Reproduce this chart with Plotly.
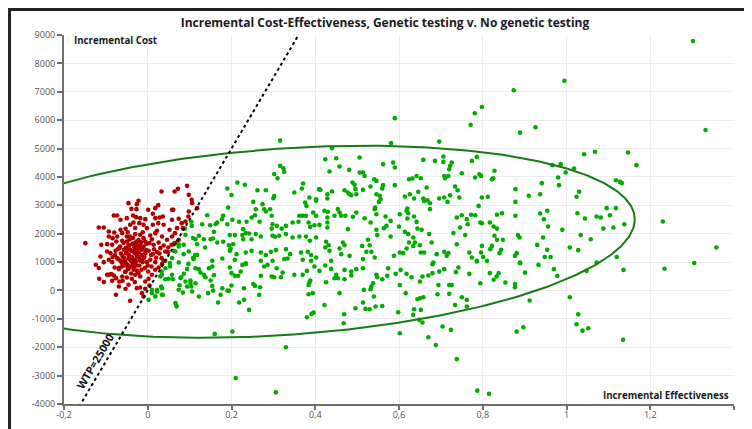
import numpy as np
import plotly.graph_objects as go

TITLE = "Incremental Cost-Effectiveness, Genetic testing v. No genetic testing"
X_LABEL = "Incremental Effectiveness"
Y_LABEL = "Incremental Cost"
WTP = 25000
WTP_LABEL = "WTP=25000"

x_ticks = [-0.2, 0, 0.2, 0.4, 0.6, 0.8, 1.0, 1.2, 1.4]
x_tick_labels = ["-0,2", "0", "0,2", "0,4", "0,6", "0,8", "1", "1,2", ""]
y_ticks = [-4000, -3000, -2000, -1000, 0, 1000, 2000, 3000, 4000, 5000, 6000, 7000, 8000, 9000]
y_tick_labels = ["-4000", "-3000", "-2000", "-1000", "0", "1000", "2000", "3000", "4000",
                 "5000", "6000", "7000", "8000", "9000"]

# confidence ellipse (center, x half-width, y components)
ell_cx, ell_cy = 0.325, 1715
ell_a, ell_c, ell_d = 0.838, 787, 3290

green_points = [
    (0.316,4390),(0.324,4300),(0.326,4180),(0.302,4100),(0.310,3955),(0.214,3800),(0.232,3720),(0.190,3590),
    (0.262,3530),(0.282,3530),(0.302,3330),(0.300,3250),(0.350,3450),(0.368,3590),(0.371,3770),(0.200,3360),
    (0.192,2920),(0.252,3120),(0.274,3040),(0.278,2860),(0.258,2860),(0.256,2650),(0.292,2860),(0.282,2780),
    (0.296,2630),(0.180,2630),(0.177,2510),(0.142,2650),(0.130,2335),(0.149,2300),(0.162,2335),(0.166,2395),
    (0.190,2335),(0.202,2490),(0.218,2420),(0.236,2420),(0.248,2570),(0.267,2420),(0.298,2335),(0.308,2275),
    (0.296,2180),(0.320,2180),(0.330,2275),(0.346,2395),(0.362,2630),(0.370,2630),(0.360,2420),(0.378,2630),
    (0.384,2395),(0.388,2240),(0.398,2300),(0.376,3100),(0.379,2980),(0.386,3275),(0.402,3160),(0.105,2275),
    (0.089,2180),(0.104,2420),(0.158,2065),(0.122,1925),(0.114,1805),(0.134,1805),(0.150,1805),(0.156,1830),
    (0.180,1715),(0.196,1950),(0.208,1950),(0.228,2160),(0.234,2020),(0.226,1950),(0.242,2005),(0.228,1805),
    (0.248,1805),(0.258,1985),(0.270,1900),(0.298,1925),(0.304,1890),(0.314,1925),(0.330,1985),(0.346,1865),
    (0.362,1900),(0.378,1900),(0.387,1750),(0.402,1865),(0.069,1690),(0.074,1630),(0.062,1395),(0.086,1280),
    (0.113,1245),(0.118,1630),(0.137,1515),(0.166,1690),(0.194,1595),(0.198,1480),(0.204,1630),(0.196,1395),
    (0.212,1280),(0.234,1335),(0.248,1395),(0.270,1335),(0.282,1245),(0.294,1360),(0.306,1420),(0.330,1455),
    (0.340,1280),(0.366,1335),(0.382,1360),(0.390,1245),(0.042,1045),(0.074,985),(0.110,1105),(0.154,1045),
    (0.178,1125),(0.208,1080),(0.234,960),(0.270,1045),(0.298,1045),(0.326,1105),(0.334,1125),(0.370,1080),
    (0.390,1045),
    (0.440,5010),(0.424,4625),(0.450,4660),(0.506,4685),(0.434,4190),(0.458,4365),(0.481,4250),(0.506,4155),
    (0.514,4155),(0.518,4035),(0.541,3920),(0.546,3860),(0.562,4450),(0.586,4505),(0.590,4330),(0.658,4600),
    (0.686,4565),(0.706,4720),(0.706,4530),(0.722,4390),(0.720,4270),(0.726,4505),(0.750,4130),(0.708,4035),
    (0.710,3955),(0.718,4035),(0.624,3920),(0.632,3945),(0.642,4035),(0.652,3955),(0.774,4565),(0.786,4705),
    (0.782,3980),(0.792,4095),(0.409,3570),(0.412,3545),(0.429,3390),(0.440,3485),(0.429,3240),(0.402,3215),
    (0.470,3530),(0.478,3450),(0.482,3390),(0.489,3805),(0.494,3720),(0.496,3570),(0.486,3355),(0.498,3390),
    (0.514,3545),(0.532,3660),(0.546,3390),(0.554,3335),(0.556,3215),(0.560,3590),(0.562,3710),(0.590,3710),
    (0.552,3120),(0.614,3310),(0.626,3390),(0.636,3240),(0.646,3475),(0.658,3240),(0.660,3155),(0.668,3180),
    (0.674,3075),(0.674,2865),(0.666,3625),(0.696,3240),(0.708,3275),(0.716,3120),(0.722,3355),(0.734,3660),
    (0.740,3530),(0.744,3275),(0.798,3275),(0.790,2980),(0.395,2745),(0.402,2630),(0.422,2805),(0.430,2770),
    (0.429,2570),(0.446,2630),(0.454,2865),(0.458,2745),(0.462,2630),(0.472,2630),(0.410,2310),(0.429,2395),
    (0.429,2220),(0.490,2595),(0.498,2745),(0.518,2545),(0.532,2395),(0.542,2865),(0.543,2920),(0.546,2685),
    (0.568,2605),(0.570,2275),(0.580,2450),(0.564,2195),(0.602,2685),(0.618,2805),(0.620,2885),(0.622,2720),
    (0.620,2535),(0.636,2605),(0.642,2415),(0.600,2255),(0.478,2160),(0.546,2135),(0.548,1950),(0.526,1785),
    (0.580,1900),(0.614,2065),(0.622,1985),(0.634,1865),(0.644,2180),(0.654,2135),(0.672,1985),(0.738,2570),
    (0.750,2650),(0.762,2510),(0.772,2665),(0.782,2650),(0.764,2335),(0.758,1950),(0.794,2395),(0.798,2370),
    (0.746,2220),(0.730,2020),(0.426,1715),(0.432,1595),(0.424,1515),(0.434,1395),(0.466,1690),(0.470,1595),
    (0.458,1480),(0.462,1280),(0.482,1220),(0.512,1570),(0.530,1595),(0.534,1360),(0.542,1160),(0.522,1360),
    (0.514,1105),(0.588,1220),(0.602,1335),(0.610,1315),(0.618,1480),(0.624,1690),(0.634,1570),(0.638,1690),
    (0.650,1595),(0.652,1335),(0.660,1335),(0.678,1690),(0.690,1280),(0.708,1360),(0.714,1220),(0.718,1315),
    (0.738,1630),(0.768,1335),(0.774,1160),(0.786,1045),(0.796,1335),(0.798,1570),(0.402,1160),(0.438,1045),
    (0.682,985),
    (1.042,4800),(1.068,4885),(1.147,4860),(1.167,4415),(0.966,4415),(0.986,4450),(1.018,4295),(0.998,4155),
    (0.828,4215),(0.825,3955),(0.822,3920),(0.796,4035),(0.980,3980),(0.982,3710),(0.941,3780),(0.878,3570),
    (0.937,3390),(0.910,3335),(1.024,3300),(1.030,3475),(1.118,3885),(1.128,3825),(1.132,3780),(0.812,3300),
    (0.878,3120),(0.954,2805),(0.937,2710),(0.946,2510),(0.956,2255),(1.026,2720),(1.044,2535),(1.072,2605),
    (1.082,2570),(1.104,2650),(1.096,2900),(1.118,2900),(1.088,2180),(1.112,2220),(1.138,2335),(0.990,2135),
    (1.034,1950),(1.058,1805),(0.834,2665),(0.846,2720),(0.878,2630),(0.817,2395),(0.826,2255),(0.834,2180),
    (0.828,1925),(0.834,1785),(0.848,1785),(0.884,1950),(0.888,1865),(0.944,1865),(0.930,1605),(0.954,1430),
    (0.822,1570),(0.818,1455),(0.844,1430),(0.840,1315),(0.881,1315),(0.877,1220),(0.801,1180),(0.810,1045),
    (0.948,1180),(0.962,1180),(1.008,1515),(1.028,1420),(1.120,1180),(0.889,985),
    (0.053,845),(0.097,935),(0.122,750),(0.126,630),(0.134,550),(0.138,465),(0.146,785),(0.154,845),
    (0.094,760),(0.086,585),(0.080,465),(0.076,185),(0.102,350),(0.114,255),(0.104,140),(0.084,-75),
    (0.032,140),(0.022,-40),(0.010,20),(0.036,-155),(0.002,-330),(0.042,395),(0.050,410),(0.060,395),
    (0.034,550),(0.150,350),(0.154,160),(0.158,540),(0.178,80),(0.174,-155),(0.156,-5),(0.144,-95),
    (0.122,-215),(0.190,-5),(0.194,-15),(0.200,175),(0.200,610),(0.196,810),(0.208,515),(0.216,515),
    (0.222,665),(0.226,900),(0.234,925),(0.230,80),(0.218,-425),(0.230,-330),(0.242,-685),(0.168,-425),
    (0.068,-510),(0.069,-565),(0.252,230),(0.256,160),(0.266,-155),(0.268,115),(0.270,515),(0.278,845),
    (0.286,900),(0.296,490),(0.302,465),(0.318,465),(0.308,785),(0.322,630),(0.350,550),(0.370,550),
    (0.380,690),(0.384,195),(0.386,280),(0.388,350),(0.394,-95),(0.384,-135),(0.391,-825),(0.396,-780),
    (0.380,-945),(0.160,-1530),(0.202,-1450),(0.330,-2000),(0.210,-3085),
    (0.410,690),(0.398,845),(0.424,880),(0.438,760),(0.426,290),(0.446,430),(0.450,550),(0.454,430),
    (0.470,725),(0.470,395),(0.486,665),(0.486,525),(0.498,750),(0.514,785),(0.546,550),(0.548,465),
    (0.538,255),(0.534,140),(0.532,45),(0.516,20),(0.540,-215),(0.560,395),(0.574,785),(0.572,515),
    (0.592,585),(0.604,725),(0.602,195),(0.618,585),(0.616,-95),(0.630,465),(0.650,315),(0.656,490),
    (0.670,525),(0.680,925),(0.680,610),(0.696,665),(0.708,750),(0.694,195),(0.692,-135),(0.720,195),
    (0.726,190),(0.720,-120),(0.736,645),(0.742,810),(0.768,585),(0.786,1020),(0.794,255),(0.458,-95),
    (0.422,-510),(0.514,-425),(0.520,-650),(0.530,-660),(0.544,-565),(0.560,-545),(0.496,-625),(0.469,-840),
    (0.468,-1155),(0.598,-765),(0.634,-860),(0.636,-660),(0.644,-310),(0.650,-275),(0.658,-240),(0.652,-685),
    (0.656,-1130),(0.648,-1035),(0.734,-510),(0.750,-240),(0.762,-330),(0.762,-565),(0.602,-1505),(0.670,-1650),
    (0.704,-1270),(0.724,-1390),(0.688,-1920),(0.738,-2420),(0.787,-3530),(0.815,-3645),(0.306,-3590),
    (0.889,960),(0.933,900),(0.970,750),(0.978,515),(0.901,630),(0.817,610),(0.833,490),(0.838,610),
    (0.826,375),(0.854,280),(0.877,230),(0.877,115),(1.048,690),(1.072,985),(1.136,725),(0.912,-355),
    (1.008,-240),(1.028,-840),(1.024,-1190),(1.038,-1415),(1.052,-1330),(0.881,-1450),(0.897,-1295),(1.135,-1740),
    (1.230,2430),(1.234,765),(1.305,965),(1.358,1515),(1.302,8790),(0.995,7390),(0.874,7055),(1.332,5655),
    (0.771,5835),(0.781,6245),(0.798,6465),(0.889,5560),(0.926,5750),(0.590,6070),(0.581,5190),(0.696,5245),
    (0.316,5280),
    (0.090,1960),(0.108,1845),(0.086,1610),(0.098,1375),(0.074,1550),(0.066,1375),(0.058,1140),(0.053,965),
    (0.042,785),(0.033,670),(0.030,495),(0.058,550),(0.078,435),(0.090,315),(0.102,260),(0.094,140),
    (0.074,25),(0.034,80),(0.022,25),(0.010,-95),(0.018,-210),(0.034,-155),(0.066,-445),(0.106,-35),
    (0.108,1140),(0.118,1255),(0.114,785),
]

red_points = [
    (0.033,3487),(0.064,3487),(0.072,3581),(0.094,3686),(0.098,3369),(0.105,3193),(0.118,2900),(-0.022,3158),
    (-0.026,3041),(-0.046,3076),(-0.039,2876),(-0.027,2865),(0.001,2841),(0.018,2900),(0.058,2841),(-0.073,2642),
    (-0.081,2642),(-0.065,2489),(-0.050,2548),(-0.035,2642),(-0.028,2583),(-0.018,2548),(-0.006,2512),(0.012,2700),
    (0.018,2548),(0.028,2571),(0.036,2606),(0.058,2489),(0.074,2524),(0.098,2782),(0.097,2606),(0.106,3076),
    (-0.105,2219),(-0.117,2219),(-0.093,2078),(-0.080,2043),(-0.065,2137),(-0.053,2172),(-0.042,2313),(-0.034,2395),
    (-0.020,2371),(-0.010,2313),(-0.002,2195),(0.012,2313),(0.025,2371),(0.038,2313),(0.052,2137),(0.065,2019),
    (0.070,2195),(0.081,2371),(0.084,2195),(0.090,2430),(0.074,1784),(-0.093,1902),(-0.084,1843),(-0.073,1902),
    (-0.061,2019),(-0.050,1902),(-0.042,1902),(-0.030,1984),(-0.018,1961),(-0.010,1843),(0.006,1937),(0.018,2019),
    (0.034,1902),(0.046,1784),(0.058,1902),(-0.149,1667),(-0.111,1608),(-0.097,1632),(-0.085,1608),(-0.075,1726),
    (-0.061,1749),(-0.050,1726),(-0.046,1608),(-0.034,1632),(-0.026,1726),(-0.018,1585),(-0.006,1726),(0.004,1667),
    (0.014,1608),(0.026,1691),(0.038,1585),(0.049,1514),(0.057,1608),(0.064,1667),(-0.113,1197),(-0.097,1374),
    (-0.089,1315),(-0.077,1397),(-0.068,1491),(-0.057,1432),(-0.052,1315),(-0.042,1432),(-0.036,1374),(-0.030,1468),
    (-0.022,1350),(-0.014,1432),(-0.006,1315),(0.002,1397),(0.012,1280),(0.022,1350),(0.030,1491),(0.042,1374),
    (0.048,1350),(-0.124,904),(-0.105,998),(-0.093,1080),(-0.085,998),(-0.073,1139),(-0.065,1045),(-0.057,1162),
    (-0.053,998),(-0.046,1139),(-0.039,1021),(-0.031,1080),(-0.026,1197),(-0.018,1045),(-0.010,1139),(-0.002,998),
    (0.006,1080),(0.018,998),(0.033,1139),(0.038,1045),(-0.117,787),(-0.093,552),(-0.087,575),(-0.079,810),
    (-0.069,751),(-0.061,845),(-0.053,669),(-0.047,787),(-0.042,845),(-0.034,728),(-0.028,881),(-0.022,610),
    (-0.015,728),(-0.007,787),(0.001,669),(0.009,845),(0.018,728),(0.026,810),(0.034,927),(-0.116,411),
    (-0.105,294),(-0.085,340),(-0.076,434),(-0.068,317),(-0.060,340),(-0.050,458),(-0.038,411),(-0.030,552),
    (-0.018,493),(-0.006,317),(0.002,411),(0.010,552),(-0.031,294),(-0.046,200),(-0.069,141),(-0.053,59),
    (-0.018,106),(-0.006,59),(0.004,176),(-0.076,-153),(-0.042,-364),(-0.014,-94),(-0.010,-211),(-0.097,552),
    (-0.081,528),(-0.061,493),(-0.026,82),(0.025,3005),(0.061,2840),
    (-0.045,1250),(-0.038,1180),(-0.030,1300),(-0.025,1220),(-0.020,1120),(-0.042,1080),(-0.035,950),(-0.028,1010),
    (-0.015,1260),(-0.050,1320),(-0.055,1050),(-0.060,1200),(-0.048,900),(-0.040,1400),(-0.032,1520),(-0.024,1480),
    (-0.018,1550),(-0.044,1580),(-0.052,1500),(-0.036,1650),(-0.028,1700),(-0.058,1680),(-0.064,1300),(-0.070,1100),
    (-0.012,1000),(-0.008,1180),(-0.004,1420),(-0.020,880),(-0.033,830),(-0.046,760),(-0.056,880),(-0.062,980),
    (-0.039,1120),(-0.031,1380),(-0.026,1600),(-0.016,1700),(-0.010,1550),(-0.049,1450),(-0.043,1800),(-0.035,1850),
    (-0.022,1780),(-0.066,1550),(-0.072,1450),(-0.078,1250),(-0.084,1180),(-0.068,800),(-0.054,650),(-0.040,600),
    (-0.026,700),(0.000,880),(0.008,1250),(0.015,1450),(0.020,1150),(0.028,1300),(-0.003,1650),(0.010,1800),
    (0.022,2100),(-0.012,2050),(-0.030,2200),(-0.048,2050),
]

gx = [p[0] for p in green_points]
gy = [p[1] for p in green_points]
rx = [p[0] for p in red_points]
ry = [p[1] for p in red_points]

t = np.linspace(0, 2 * np.pi, 400)
ex = ell_cx + ell_a * np.cos(t)
ey = ell_cy + ell_c * np.cos(t) + ell_d * np.sin(t)

wx = np.array([-0.2, 0.4])
wy = WTP * wx

fig = go.Figure()
fig.add_trace(go.Scatter(x=gx, y=gy, mode="markers",
                         marker=dict(size=4.6, color="#00ac00", line=dict(width=0)),
                         hoverinfo="skip"))
fig.add_trace(go.Scatter(x=rx, y=ry, mode="markers",
                         marker=dict(size=4.6, color="#b00000", line=dict(width=0)),
                         hoverinfo="skip"))
fig.add_trace(go.Scatter(x=ex, y=ey, mode="lines",
                         line=dict(color="#167a16", width=2), hoverinfo="skip"))
fig.add_trace(go.Scatter(x=wx, y=wy, mode="lines",
                         line=dict(color="#000000", width=2, dash="dot"), hoverinfo="skip"))

FONT = "Open Sans"
W, H = 744, 421
fig.update_layout(
    width=W, height=H,
    margin=dict(l=56, r=18, t=27, b=25),
    plot_bgcolor="white", paper_bgcolor="white",
    showlegend=False,
    font=dict(family=FONT, color="#333"),
    title=dict(text="<b>" + TITLE + "</b>", x=377 / W, xanchor="center",
               y=1 - 15 / H, yanchor="middle",
               font=dict(size=12, color="#1a1a1a", family=FONT)),
    xaxis=dict(range=[-0.2, 1.4], tickvals=x_ticks, ticktext=x_tick_labels,
               showgrid=True, gridcolor="#ececec", gridwidth=1, zeroline=False,
               showline=True, linecolor="#6e6e6e", linewidth=2, automargin=False,
               ticks="outside", ticklen=4, tickwidth=1.5, tickcolor="#6e6e6e",
               ticklabelstandoff=-3,
               tickfont=dict(size=9, color="#555", family=FONT)),
    yaxis=dict(range=[-4000, 9000], tickvals=y_ticks, ticktext=y_tick_labels,
               showgrid=True, gridcolor="#ececec", gridwidth=1, zeroline=False,
               showline=True, linecolor="#6e6e6e", linewidth=2, automargin=False,
               ticks="outside", ticklen=5, tickwidth=1.5, tickcolor="#6e6e6e",
               tickfont=dict(size=9, color="#555", family=FONT)),
)

fig.add_annotation(text="<b>" + Y_LABEL + "</b>", xref="paper", yref="paper",
                   x=0.012, y=0.984, xanchor="left", yanchor="middle", showarrow=False,
                   font=dict(size=9.7, color="#1a1a1a", family=FONT))
fig.add_annotation(text="<b>" + X_LABEL + "</b>", xref="paper", yref="paper",
                   x=0.9955, y=0.022, xanchor="right", yanchor="middle", showarrow=False,
                   font=dict(size=9.7, color="#1a1a1a", family=FONT))
fig.add_annotation(text="<b>" + WTP_LABEL + "</b>", x=-0.125, y=-2475, xref="x", yref="y",
                   textangle=-59.5, showarrow=False,
                   font=dict(size=11, color="#111", family=FONT))

fig.add_shape(type="rect", xref="paper", yref="paper",
              x0=-0.0813, x1=1.06, y0=-0.12, y1=1.069,
              line=dict(color="#222", width=3), fillcolor="rgba(0,0,0,0)", layer="above")

fig.write_html("out.html")
